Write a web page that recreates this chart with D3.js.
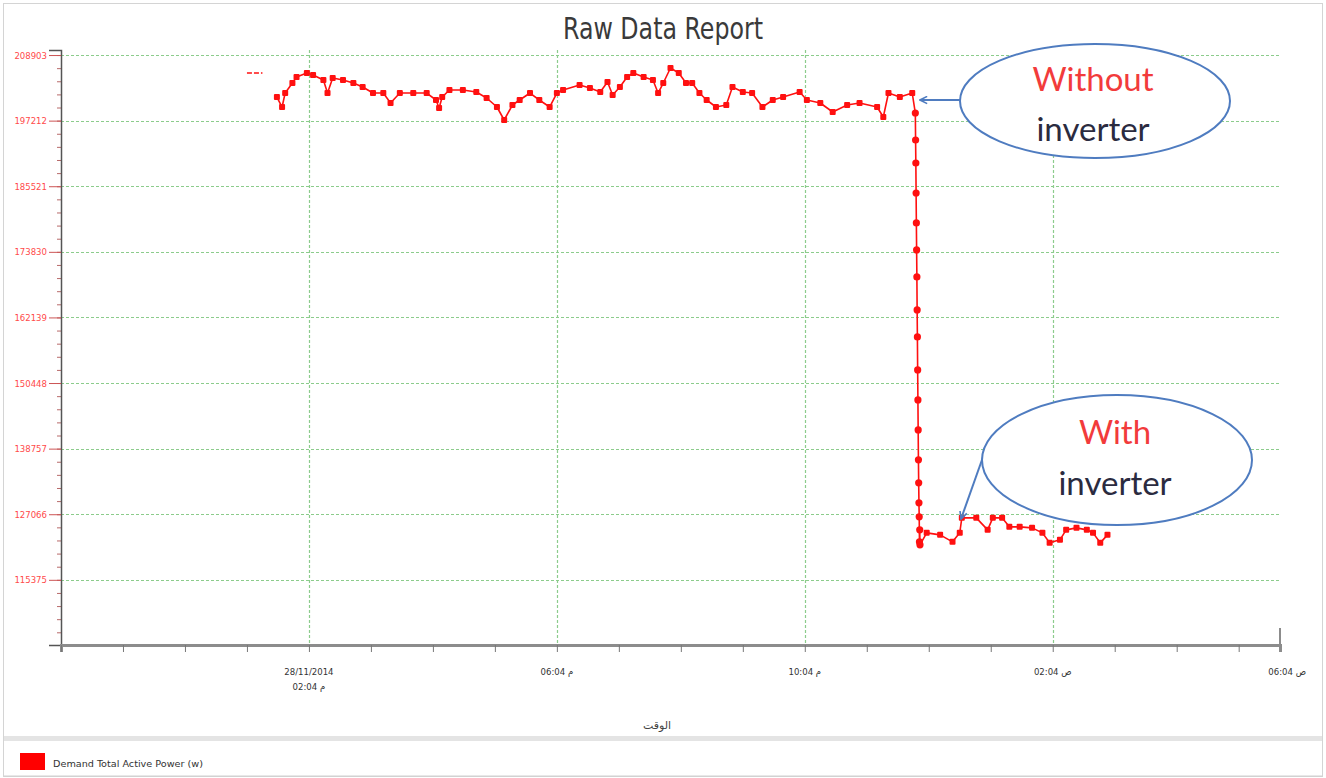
<!DOCTYPE html>
<html>
<head>
<meta charset="utf-8">
<script src="https://cdn.jsdelivr.net/npm/d3@7"></script>
<style>
  html, body { margin: 0; padding: 0; background: #fff; }
  svg { display: block; }
</style>
</head>
<body>
<svg id="chart" width="1326" height="778"></svg>
<script>
// Demand total active power, 28–29/11/2014 (W)
const strayTimes = ["28/11/2014 13:04:00", "28/11/2014 13:11:00", "28/11/2014 13:19:00"];
const strayPower = [205697, 205697, 205697];

const beforeTimes = [
  "13:33","13:38","13:41","13:48","13:52","14:02","14:08","14:18","14:22","14:27",
  "14:37","14:47","14:56","15:06","15:16","15:23","15:32","15:45","15:58","16:07",
  "16:10","16:13","16:20","16:33","16:46","16:56","17:06","17:13","17:21","17:28",
  "17:38","17:47","17:57","18:04","18:10","18:26","18:36","18:46","18:53","18:58",
  "19:05","19:12","19:18","19:28","19:37","19:42","19:47","19:54","20:02","20:09",
  "20:15","20:22","20:29","20:38","20:48","20:54","21:04","21:13","21:23","21:33",
  "21:43","21:59","22:06","22:19","22:31","22:45","22:57","23:14","23:20","23:25",
  "23:36","23:48"
].map(t => "28/11/2014 " + t + ":00");
const beforePower = [
  201421,199640,202134,203916,204984,205697,205341,204450,202134,204806,
  204450,203916,203203,202134,202134,200353,202134,202134,202134,200887,
  199462,201421,202669,202669,202312,201243,199640,197324,199996,200887,
  202134,200887,199640,202134,202669,203559,203025,202312,204094,201778,
  203203,204984,205697,204984,204450,202134,203916,206588,205697,203916,
  203916,202134,200887,199640,199996,203203,202312,202134,199640,200887,
  201421,202312,200887,200353,198749,199996,200353,199640,197858,202134,
  201421,202134
];

// switch-over to the inverter drive
const dropTimes = [
  "23:51:00","23:51:15","23:51:30","23:51:45","23:52:00","23:52:15","23:52:30","23:52:45",
  "23:53:00","23:53:15","23:53:30","23:53:45","23:54:00","23:54:15","23:54:30","23:54:45",
  "23:55:00","23:55:15","23:55:30"
].map(t => "28/11/2014 " + t);
const dropPower = [
  198571,193761,189664,184319,178975,174165,169354,163476,
  158665,152787,147442,142098,136753,132656,129093,126598,
  122145,124283,121610
];

const afterTimes = [
  "00:02","00:15","00:27","00:34","00:36","00:50","01:01","01:06","01:15","01:22",
  "01:32","01:44","01:54","02:01","02:11","02:17","02:27","02:37","02:43","02:50","02:57"
].map(t => "29/11/2014 " + t + ":00");
const afterPower = [
  123748,123392,122145,123748,126420,126420,124283,126420,126420,124817,
  124817,124639,123748,121967,122501,124283,124639,124283,123748,121967,123392
];

const yTickValues = [115375, 127066, 138757, 150448, 162139, 173830, 185521, 197212, 208903];
const xLabelLines = [
  ["28/11/2014", "02:04 م"],
  ["06:04 م"],
  ["10:04 م"],
  ["02:04 ص"],
  ["06:04 ص"]
];
const chartTitle = "Raw Data Report";
const xTitle = "الوقت";
const legendLabel = "Demand Total Active Power (w)";
const calloutTop = ["Without", "inverter"];
const calloutBottom = ["With", "inverter"];

const parse = d3.timeParse("%d/%m/%Y %H:%M:%S");
const toPts = (ts, vs) => ts.map((t, i) => ({ t: parse(t), v: vs[i] }));
const stray = toPts(strayTimes, strayPower);
const before = toPts(beforeTimes, beforePower);
const drop = toPts(dropTimes, dropPower);
const after = toPts(afterTimes, afterPower);
const series = before.concat(drop, after);

const svg = d3.select("#chart");
const W = 1326, H = 778;
const plot = { left: 61, right: 1280, top: 50, bottom: 645 };

const tStart = parse("28/11/2014 10:04:00");
const tEnd = parse("29/11/2014 05:44:00");
const x = d3.scaleTime().domain([tStart, tEnd]).range([plot.left, plot.right]);
const y = d3.scaleLinear().domain([103760, 209800]).range([plot.bottom, plot.top]);

// frame and legend panel
svg.append("rect").attr("x", 3.5).attr("y", 3.5).attr("width", W - 7).attr("height", H - 5)
  .attr("fill", "none").attr("stroke", "#d4d4d4").attr("stroke-width", 1);
svg.append("rect").attr("x", 4).attr("y", 736).attr("width", W - 8).attr("height", 5)
  .attr("fill", "#e4e4e4");
svg.append("line").attr("x1", 4).attr("x2", W - 4).attr("y1", 776).attr("y2", 776)
  .attr("stroke", "#d0d0d0");

// title
svg.append("text").attr("x", 663).attr("y", 39).attr("text-anchor", "middle")
  .attr("font-family", "'Liberation Sans Narrow', 'DejaVu Sans Condensed', 'Liberation Sans', sans-serif")
  .attr("font-size", 31).attr("fill", "#3a3a3a")
  .attr("textLength", 200).attr("lengthAdjust", "spacingAndGlyphs")
  .text(chartTitle);

// grid
const hourTicks = d3.range(0, 20).map(h => d3.timeHour.offset(tStart, h));
const labelTicks = d3.range(4, 21, 4).map(h => d3.timeHour.offset(tStart, h));
const grid = svg.append("g").attr("stroke", "#8ccc8c").attr("stroke-width", 1.2)
  .attr("stroke-dasharray", "3,2");
grid.selectAll("line.h").data(yTickValues).join("line").attr("class", "h")
  .attr("x1", plot.left).attr("x2", plot.right)
  .attr("y1", d => Math.round(y(d)) + 0.5).attr("y2", d => Math.round(y(d)) + 0.5);
grid.selectAll("line.v").data(labelTicks.slice(0, 4)).join("line").attr("class", "v")
  .attr("x1", d => Math.round(x(d)) + 0.5).attr("x2", d => Math.round(x(d)) + 0.5)
  .attr("y1", plot.top).attr("y2", plot.bottom);

// y axis
const step = yTickValues[1] - yTickValues[0];
const minorVals = d3.range(yTickValues[0] - 2 * step, y.domain()[1], step / 5)
  .filter(v => v >= y.domain()[0]);
const yAxisG = svg.append("g").attr("transform", `translate(${plot.left},0)`);
yAxisG.append("g").call(d3.axisLeft(y).tickValues(minorVals).tickSize(4).tickFormat(""))
  .call(g => g.select(".domain").remove())
  .call(g => g.selectAll("line").attr("stroke", "#b86a6a"));
yAxisG.append("g").call(d3.axisLeft(y).tickValues(yTickValues).tickSize(12).tickPadding(2)
    .tickFormat(d3.format("d")))
  .call(g => g.select(".domain").attr("stroke", "#555").attr("stroke-width", 1.5))
  .call(g => g.selectAll("line").attr("stroke", "#cc5555"))
  .call(g => g.selectAll("text").attr("fill", "#ff4a4a")
    .attr("font-family", "'DejaVu Sans Condensed', 'DejaVu Sans', sans-serif").attr("font-size", 9.5));

// x axis
const xAxisG = svg.append("g").attr("transform", `translate(0,${plot.bottom})`);
xAxisG.call(d3.axisBottom(x).tickValues(hourTicks).tickSize(7).tickFormat(""))
  .call(g => g.select(".domain").attr("stroke", "#8c8c8c").attr("stroke-width", 3))
  .call(g => g.selectAll("line").attr("stroke", "#777"));
svg.append("line").attr("x1", plot.right).attr("x2", plot.right)
  .attr("y1", 628).attr("y2", plot.bottom + 1).attr("stroke", "#8c8c8c").attr("stroke-width", 2);

// tick labels; the last one sits past the axis end, right-aligned to the panel
const xLab = svg.append("g")
  .attr("font-family", "'DejaVu Sans Condensed', 'DejaVu Sans', sans-serif")
  .attr("font-size", 9.5).attr("fill", "#333");
labelTicks.forEach((d, i) => {
  const lines = xLabelLines[i];
  const last = i === labelTicks.length - 1;
  const px = last ? 1306 : x(d);
  lines.forEach((s, j) => {
    xLab.append("text").attr("x", px).attr("y", 675 + j * 15)
      .attr("text-anchor", last ? "end" : "middle")
      .text("\u200E" + s + "\u200E");
  });
});
svg.append("text").attr("x", 657).attr("y", 729).attr("text-anchor", "middle")
  .attr("font-family", "'DejaVu Sans', sans-serif").attr("font-size", 11).attr("fill", "#444")
  .text(xTitle);

// data
const red = "#ff1010";
const line = d3.line().x(d => x(d.t)).y(d => y(d.v));
svg.append("path").datum(stray).attr("d", line).attr("fill", "none")
  .attr("stroke", red).attr("stroke-width", 1.5).attr("stroke-dasharray", "5,2");
svg.append("path").datum(series).attr("d", line).attr("fill", "none")
  .attr("stroke", red).attr("stroke-width", 1.6).attr("stroke-linejoin", "round");
svg.append("g").selectAll("rect").data(before.concat(after)).join("rect")
  .attr("x", d => x(d.t) - 3).attr("y", d => y(d.v) - 3)
  .attr("width", 6).attr("height", 6).attr("rx", 1).attr("fill", red);
svg.append("g").selectAll("circle").data(drop).join("circle")
  .attr("cx", d => x(d.t)).attr("cy", d => y(d.v)).attr("r", 3.6).attr("fill", red);

// callouts
const blue = "#4f7cc0";
const defs = svg.append("defs");
defs.append("marker").attr("id", "openArrow").attr("viewBox", "0 0 10 10")
  .attr("refX", 9).attr("refY", 5).attr("markerWidth", 9).attr("markerHeight", 9)
  .attr("orient", "auto").attr("markerUnits", "userSpaceOnUse")
  .append("path").attr("d", "M1,1 L9,5 L1,9").attr("fill", "none")
  .attr("stroke", blue).attr("stroke-width", 1.8);

function callout(cx, cy, rx, ry, from, to, words, baselines) {
  svg.append("line").attr("x1", from[0]).attr("y1", from[1]).attr("x2", to[0]).attr("y2", to[1])
    .attr("stroke", blue).attr("stroke-width", 2).attr("marker-end", "url(#openArrow)");
  svg.append("ellipse").attr("cx", cx).attr("cy", cy).attr("rx", rx).attr("ry", ry)
    .attr("fill", "#fff").attr("stroke", blue).attr("stroke-width", 2);
  svg.append("text").attr("x", cx - 2).attr("y", baselines[0]).attr("text-anchor", "middle")
    .attr("font-family", "Lato, 'Open Sans', sans-serif").attr("font-size", 33)
    .attr("fill", "#f23b3b").text(words[0]);
  svg.append("text").attr("x", cx - 2).attr("y", baselines[1]).attr("text-anchor", "middle")
    .attr("font-family", "Lato, 'Open Sans', sans-serif").attr("font-size", 33)
    .attr("fill", "#2b2b3f").text(words[1]);
}
callout(1095, 101, 135, 57, [960, 100], [920, 100], calloutTop, [91, 141]);
callout(1117, 460, 135, 65, [983, 457], [961, 519], calloutBottom, [444, 495]);

// legend
svg.append("rect").attr("x", 20).attr("y", 753).attr("width", 25).attr("height", 17).attr("fill", "#ff0000");
svg.append("text").attr("x", 53).attr("y", 767)
  .attr("font-family", "'DejaVu Sans Condensed', 'DejaVu Sans', sans-serif")
  .attr("font-size", 9.5).attr("fill", "#333")
  .attr("textLength", 150).attr("lengthAdjust", "spacingAndGlyphs")
  .text(legendLabel);
</script>
</body>
</html>
